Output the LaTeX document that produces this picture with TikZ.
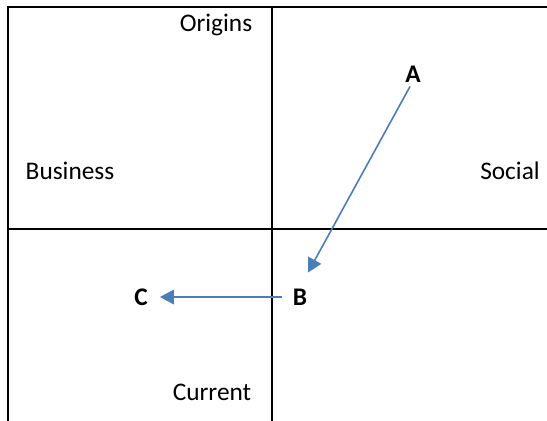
\documentclass[tikz,border=0pt]{standalone}
\usepackage{fontspec}
\setmainfont{Carlito}
\usepackage{xcolor}
\usetikzlibrary{arrows.meta, positioning, calc}
\definecolor{arrowblue}{HTML}{4A7EBB}

\begin{document}
\begin{tikzpicture}[x=0.75pt, y=-0.75pt,
    every node/.style={font=\fontsize{19pt}{22pt}\selectfont, inner sep=0pt},
    pointname/.style={font=\fontsize{19pt}{22pt}\selectfont\bfseries},
    frame/.style={line width=1.5pt, black},
    arr/.style={draw=arrowblue, line width=1.2pt, -{Triangle[length=10.5pt, width=11pt]}}]
    \useasboundingbox (0,0) rectangle (547,421);
    % axes and frame
    \coordinate (tl) at (8,7);
    \coordinate (tr) at (547,7);
    \coordinate (bl) at (8,421);
    \coordinate (mt) at (272,7);
    \coordinate (mb) at (272,421);
    \coordinate (ml) at (8,229);
    \coordinate (mr) at (547,229);
    \draw[frame] (bl) -- (tl) -- (tr);
    \draw[frame] (mt) -- (mb);
    \draw[frame] (ml) -- (mr);
    % quadrant names
    \node (origins) at (216,25) {Origins};
    \node (business) at (70,171) {Business};
    \node[anchor=east] (social) at (540,171) {Social};
    \node (current) at (212,392) {Current};
    % points
    \node[pointname] (A) at (413,74) {A};
    \node[pointname] (B) at (300,297) {B};
    \node[pointname] (C) at (141,297) {C};
    \draw[arr] ([xshift=-2.25pt, yshift=-3pt]A.south) -- ([xshift=6pt, yshift=12pt]B.north);
    \draw[arr] ([xshift=-8pt]B.west) -- ([xshift=9pt]C.east);
\end{tikzpicture}
\end{document}
